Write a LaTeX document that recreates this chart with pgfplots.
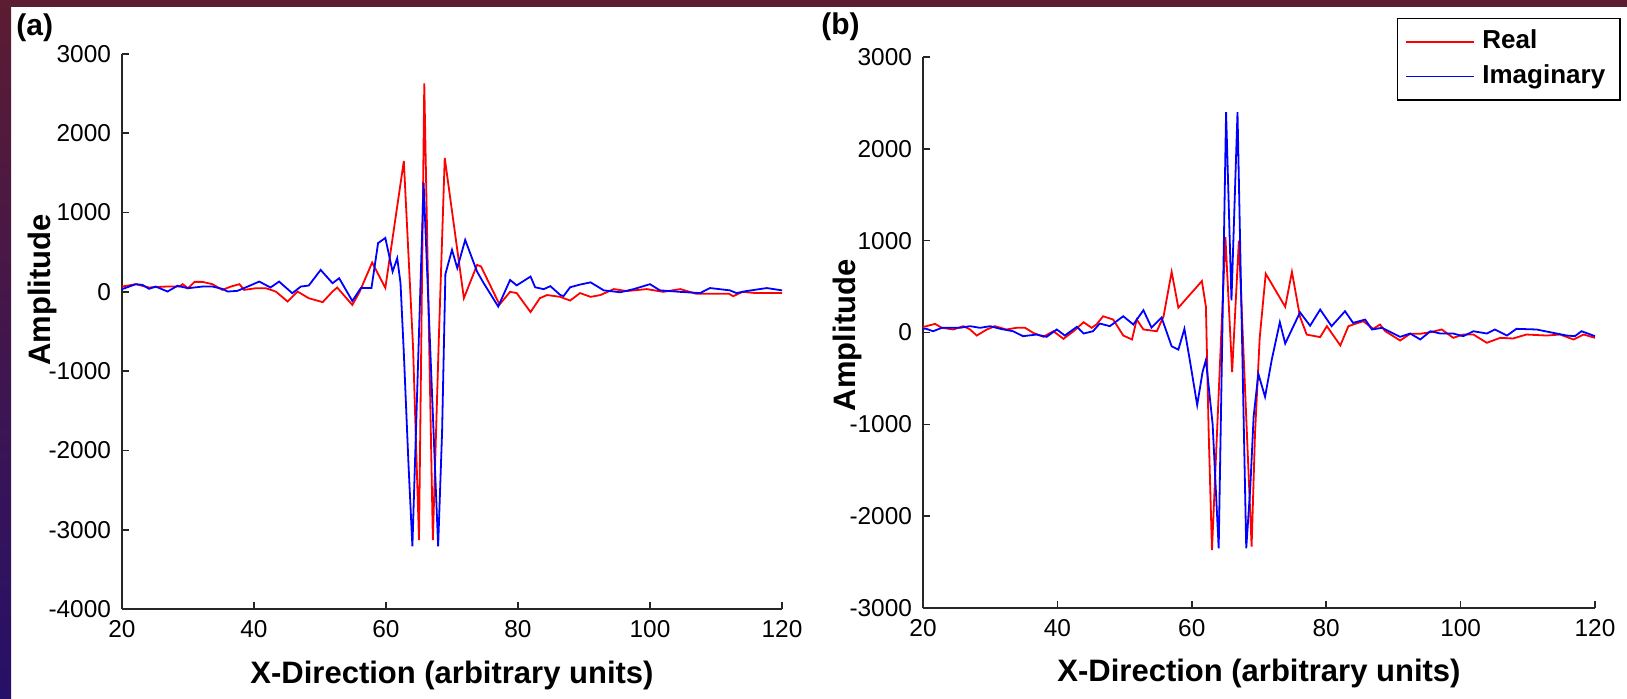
\documentclass[border=0pt]{standalone}
\usepackage{fontspec}
\setmainfont{Liberation Sans}
\usepackage{pgfplots}
\pgfplotsset{compat=1.18}

\definecolor{frametop}{RGB}{92,28,50}
\definecolor{framebot}{RGB}{38,16,105}

% MATLAB-like look: only left/bottom axis lines, inward ticks
\pgfplotsset{
  matlab/.style={
    scale only axis,
    axis x line=bottom, axis y line=left,
    axis line style={-, line width=0.8pt, black!85},
    tick align=inside,
    major tick length=3.5pt,
    tick style={line width=0.8pt, black!85},
    xmin=20, xmax=120,
    xtick={20,40,...,120},
    /pgf/number format/assume math mode=true,
    /pgf/number format/1000 sep={},
    tick label style={font=\fontsize{12.2}{14}\selectfont},
    xticklabel style={yshift=-2pt},
    yticklabel style={xshift=-2pt},
    label style={font=\fontsize{15.5}{18}\selectfont\bfseries},
    xlabel={X-Direction (arbitrary units)},
    ylabel={Amplitude},
    xlabel style={at={(axis description cs:0.5,-0.119)}, anchor=center},
  }
}

\begin{document}
\begin{tikzpicture}
  \path[use as bounding box] (0,0) rectangle (813.5pt,349pt);
  \fill[white] (0,0) rectangle (813.5pt,349pt);
  \fill[frametop] (0,345.5pt) rectangle (813.5pt,349pt);
  \shade[top color=frametop, bottom color=framebot] (0,0) rectangle (5.5pt,349pt);

  % (a)
  \begin{axis}[matlab,
      at={(61pt,44.5pt)}, anchor=south west,
      width=330pt, height=277.5pt,
      ymin=-4000, ymax=3000,
      ytick={-4000,-3000,...,3000},
      ylabel style={at={(axis description cs:-0.121,0.575)}, anchor=center}]
    \addplot[red, line width=0.9pt] coordinates {
      (20,67) (22.1,97) (24.1,55) (26.7,67) (28.7,67) (29.2,97) (30,46)
      (31,126) (32.2,126) (33.7,97) (35.2,25) (36.5,67) (37.8,97) (38.5,25)
      (40.3,46) (41.8,46) (43.3,4) (45.1,-122) (46.6,4) (48.3,-80)
      (50.4,-130) (51.9,4) (52.6,55) (54.9,-165) (56,0) (57.9,370)
      (59.9,50) (62.7,1650) (64.1,-700) (65,-3130) (65.8,2630) (67.1,-3130)
      (68,-600) (68.9,1690) (71.8,-80) (73.8,340) (74.4,320) (77.2,-160)
      (78.8,0) (79.8,-15) (81.9,-255) (83.3,-80) (84.4,-40) (86.4,-63)
      (87.9,-110) (89.4,-15) (91,-63) (92.5,-40) (94.5,35) (96.5,10)
      (99.5,35) (102,0) (104.6,35) (107,-25) (112,-25) (112.6,-55) (114,0)
      (116,-15) (120,-15)};
    \addplot[blue, line width=0.9pt] coordinates {
      (20,34) (22.1,97) (23.1,88) (24.1,38) (25.1,67) (26.9,4) (28.4,76)
      (30,46) (32.2,67) (33.7,67) (35.2,38) (36,4) (37.5,13) (39.3,76)
      (40.8,130) (42.5,55) (43.8,130) (45.8,-17) (47.1,67) (48.3,80)
      (50.1,277) (51.9,109) (52.9,172) (54.9,-115) (56.2,50) (57.8,50)
      (58.8,615) (59.9,680) (61,255) (61.7,425) (62.2,110) (62.7,-770)
      (63.4,-2160) (64,-3210) (65.7,1370) (67.9,-3210) (68.5,-1760)
      (69,225) (70,530) (70.8,300) (72,655) (73.8,255) (74.8,110) (77,-185)
      (78.8,150) (79.8,82) (81.9,193) (82.6,58) (83.9,34) (84.9,72)
      (86.4,-39) (86.9,-53) (87.9,58) (89.4,92) (91,120) (93,19) (95.5,-5)
      (97.5,34) (100,97) (101.5,19) (104.6,0) (107.6,-15) (109.1,48)
      (112.1,19) (113.1,-15) (114.6,10) (117.7,48) (120,19)};
  \end{axis}

  % (b)
  \begin{axis}[matlab,
      at={(461.5pt,45pt)}, anchor=south west,
      width=336pt, height=275.5pt,
      ymin=-3000, ymax=3000,
      ytick={-3000,-2000,...,3000},
      ylabel style={at={(axis description cs:-0.113,0.495)}, anchor=center},
      legend style={at={(axis description cs:1.0387,1.0716)}, anchor=north east,
        draw=black, line width=0.8pt, fill=white,
        font=\fontsize{13}{15}\selectfont\bfseries,
        inner xsep=4pt, inner ysep=3pt, row sep=0pt,
        nodes={inner xsep=3.5pt, inner ysep=2.6pt, text height=9.5pt, text depth=2.7pt}},
      legend cell align=left,
      legend image code/.code={
        \path (0pt,0pt) -- (4pt,0pt);
        \draw[#1] (4pt,0pt) -- (34pt,0pt);}]
    \addplot[red, line width=0.9pt] coordinates {
      (20,60) (20.5,69) (21.8,94) (22.8,51) (24.5,33) (26,69) (27,33)
      (28,-33) (29.5,33) (30.7,69) (32.4,33) (33.9,51) (35.2,51) (36.4,-4)
      (37.9,-47) (39.4,14) (40.9,-69) (42.4,14) (43.9,112) (45.1,51)
      (45.8,87) (46.8,177) (48.3,141) (49.8,-33) (51.1,-76) (51.8,141)
      (52.8,33) (54.8,14) (55.8,177) (57,660) (58,270) (61.5,560)
      (62.1,280) (62.5,-1060) (63,-2370) (65,1040) (66,-430) (67,1000)
      (68.9,-2330) (69.4,-1110) (70.1,-60) (71,640) (73.9,280) (74.9,660)
      (76.1,171) (77.1,-23) (79.1,-50) (80.1,69) (82.1,-141) (83.3,69)
      (85.5,123) (87,40) (88,87) (88.8,14) (91,-87) (92.5,-14) (94,-14)
      (95.5,4) (97.2,33) (98.9,-58) (100.4,-22) (101.9,-22) (103.9,-112)
      (105.9,-58) (107.8,-65) (109.8,-22) (112.8,-33) (114.8,-22)
      (116.8,-76) (118.3,-22) (120,-58)};
    \addlegendentry{Real}
    \addplot[blue, line width=0.9pt] coordinates {
      (20,40) (20.5,40) (21.5,14) (22.8,51) (25.5,51) (27,69) (28.5,51)
      (30,69) (31.5,40) (33.4,14) (34.9,-40) (36.9,-22) (38.4,-47)
      (39.9,33) (41.1,-33) (42.9,62) (43.9,-11) (45.3,14) (46.3,98)
      (47.8,69) (49.8,177) (51.3,87) (52.8,243) (54,54) (55.5,163)
      (57,-150) (58,-186) (58.9,40) (59.7,-300) (60.8,-790) (61.6,-430)
      (62.1,-300) (63.1,-1000) (64,-2350) (65.1,2400) (65.9,350)
      (66.8,2400) (68.1,-2350) (68.7,-1690) (69.2,-916) (69.9,-450)
      (70.9,-700) (71.9,-295) (73.1,112) (73.9,-120) (76.1,220) (77.6,74)
      (79.1,250) (80.8,69) (82.8,232) (84,105) (85.8,141) (86.8,33)
      (88.3,51) (91,-47) (92.5,-11) (94,-76) (95.5,14) (97,-11) (98.9,-11)
      (100.4,-40) (101.9,14) (103.9,-11) (105.1,33) (106.9,-33) (108.3,40)
      (111.3,33) (113.8,-4) (115.8,-33) (117,-40) (118,14) (120,-40)};
    \addlegendentry{Imaginary}
  \end{axis}

  \node[anchor=north west, inner sep=0pt, font=\fontsize{15}{18}\selectfont\bfseries]
    at (8pt,342.5pt) {(a)};
  \node[anchor=north west, inner sep=0pt, font=\fontsize{15}{18}\selectfont\bfseries]
    at (410.5pt,343pt) {(b)};
\end{tikzpicture}
\end{document}
